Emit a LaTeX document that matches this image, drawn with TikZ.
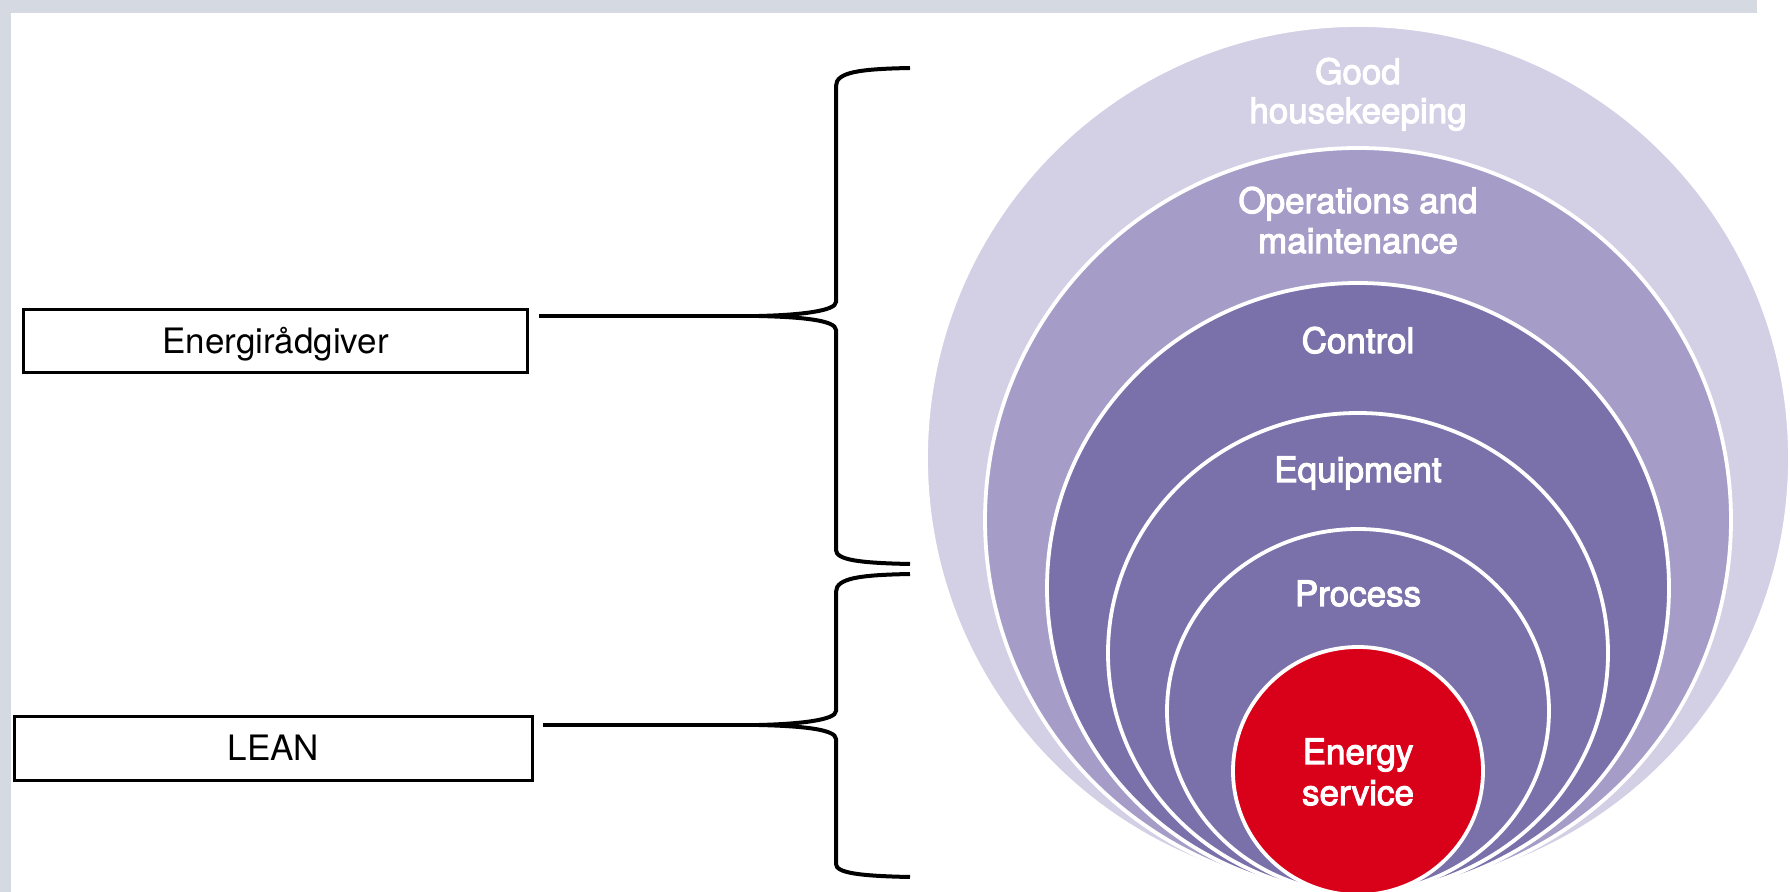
\documentclass[tikz,border=0pt]{standalone}
\usepackage{fontspec}
\setmainfont{TeX Gyre Heros}
\newfontfamily\medfont[FakeBold=3]{TeX Gyre Heros}
\usetikzlibrary{calc}
\definecolor{framegray}{HTML}{D5DAE2}
\definecolor{ringA}{HTML}{D3CFE5}
\definecolor{ringB}{HTML}{A59DC7}
\definecolor{ringC}{HTML}{7A70AA}
\definecolor{coreRed}{HTML}{D9001A}
\begin{document}
\begin{tikzpicture}[x=0.5pt,y=-0.5pt,
  ring/.style={draw=white, line width=1.9pt},
  lbl/.style={text=white, font=\medfont\fontsize{17.5}{20}\selectfont, anchor=base, inner sep=0pt},
  labelbox/.style={draw=black, line width=1.9pt, inner sep=0pt, text height=12.2pt, text depth=0pt},
  bracepath/.style={draw=black, line width=2pt},
  link/.style={draw=black, line width=2pt}]
\useasboundingbox (0,0) rectangle (1790,892);
\clip (0,0) rectangle (1790,892);
% frame
\fill[framegray] (0,0) rectangle (1757,13);
\fill[framegray] (0,0) rectangle (11,892);
% rings
\filldraw[ring, fill=ringA] (1358,458) ellipse [x radius=432, y radius=433];
\filldraw[ring, fill=ringB] (1358,520) ellipse [x radius=373, y radius=372];
\filldraw[ring, fill=ringC] (1358,588) ellipse [x radius=311, y radius=305];
\filldraw[ring, fill=ringC] (1358,653) ellipse [x radius=250, y radius=240];
\filldraw[ring, fill=ringC] (1358,711) ellipse [x radius=191, y radius=182];
\filldraw[ring, fill=coreRed] (1358,771) ellipse [x radius=125, y radius=124];
% ring labels
\node[lbl] (gh1) at (1358,84) {Good};
\node[lbl] (gh2) at (1358,123) {housekeeping};
\node[lbl] (om1) at (1358,213) {Operations and};
\node[lbl] (om2) at (1358,253) {maintenance};
\node[lbl] (ctl) at (1358,353) {Control};
\node[lbl] (eqp) at (1358,482) {Equipment};
\node[lbl] (prc) at (1358,606) {Process};
\node[lbl] (es1) at (1358,764) {Energy};
\node[lbl] (es2) at (1358,805) {service};
% boxes
\node[labelbox, minimum width=252pt, minimum height=31.5pt, font=\fontsize{17.5}{20}\selectfont] (ebox) at (275.5,341) {Energirådgiver};
\node[labelbox, minimum width=259pt, minimum height=32pt, font=\fontsize{17.5}{20}\selectfont] (lbox) at (273.5,748.5) {LEAN};
% braces
\coordinate (t1) at (759,316);
\coordinate (t2) at (759,725);
\draw[bracepath] (910,68) .. controls (860,69) and (836,72) .. (836,86) -- (836,302)
  .. controls (836,311) and (800,315) .. (t1)
  .. controls (800,317) and (836,320) .. (836,330) -- (836,550)
  .. controls (836,560) and (860,563) .. (910,564);
\draw[bracepath] (910,574) .. controls (860,575) and (836,578) .. (836,592) -- (836,711)
  .. controls (836,720) and (800,724) .. (t2)
  .. controls (800,726) and (836,729) .. (836,739) -- (836,864)
  .. controls (836,873) and (860,876) .. (910,877);
% connectors
\draw[link, shorten <=5pt] (ebox.east |- t1) -- (t1);
\draw[link, shorten <=4.5pt] (lbox.east |- t2) -- (t2);
\end{tikzpicture}
\end{document}
